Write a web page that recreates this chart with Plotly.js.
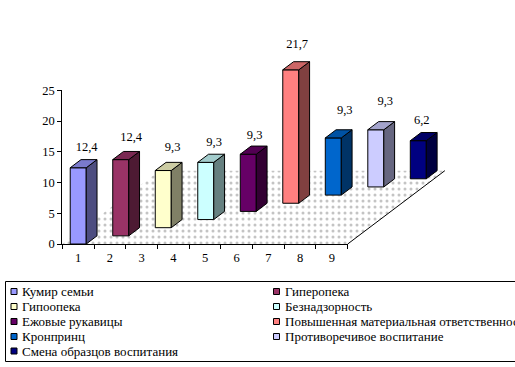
<!DOCTYPE html>
<html><head><meta charset="utf-8">
<script src="https://cdn.plot.ly/plotly-3.0.1.min.js"></script>
<style>html,body{margin:0;padding:0;background:#fff}#c{width:515px;height:367px}</style></head>
<body><div id="c"></div>
<script>
const categories = ["1","2","3","4","5","6","7","8","9"];
const seriesNames = ["Кумир семьи","Гиперопека","Гипоопека","Безнадзорность","Ежовые рукавицы","Повышенная материальная ответственность","Кронпринц","Противоречивое воспитание","Смена образцов воспитания"];
const values = [12.4,12.4,9.3,9.3,9.3,21.7,9.3,9.3,6.2];
const valueLabels = ["12,4","12,4","9,3","9,3","9,3","21,7","9,3","9,3","6,2"];
const frontColors = ["#9999FF","#993366","#FFFFCC","#CCFFFF","#660066","#FF8080","#0066CC","#CCCCFF","#000080"];
const sideColors = ["#4D4D80","#4D1A33","#808066","#668080","#330033","#804040","#003366","#666680","#000040"];
const topColors = ["#7A7ACC","#7A2952","#CCCCA3","#A3CCCC","#520052","#CC6666","#0052A3","#A3A3CC","#000066"];
const labelNudgeX = [3,5,4,3,1,1,6,4,-2];
const labelNudgeY = [20,22,23,19,18.6,25,27,28,19.6];

const W=515,H=367;
const X0=62.3,Y0=244,PXU=31.71,PYU=6.148;
const DX=10.8/PXU, DY=8.15/PYU, BW=16/PXU, GAP=0.25;
const rx=[-X0/PXU,(W-X0)/PXU], ry=[(Y0-H)/PYU,Y0/PYU];
const left=i=>i+GAP+i*DX, base=i=>i*DY;

const traces=[];
const n=categories.length;
traces.push({type:'scatter',mode:'lines',xaxis:'x',yaxis:'y',hoverinfo:'skip',showlegend:false,
  x:[0,n,n+n*DX,n*DX,0],y:[0,0,n*DY,n*DY,0],fill:'toself',fillcolor:'#ffffff',
  fillpattern:{shape:'.',fgcolor:'#c4c4c4',bgcolor:'#ffffff',size:6,solidity:0.2},line:{width:0}});
traces.push({type:'scatter',mode:'lines',xaxis:'x',yaxis:'y',hoverinfo:'skip',showlegend:false,
  x:[n,n+n*DX],y:[0,n*DY],line:{color:'#000',width:1}});
traces.push({type:'bar',xaxis:'x2',yaxis:'y2',name:'',hoverinfo:'skip',showlegend:false,
  x:categories.map((c,i)=>left(i)+BW/2),y:values,base:values.map((v,i)=>base(i)),width:BW,
  marker:{color:frontColors,line:{color:'#000',width:1}}});
values.forEach((v,i)=>{
  const l=left(i),b=base(i);
  traces.push({type:'scatter',mode:'lines',xaxis:'x2',yaxis:'y2',hoverinfo:'skip',showlegend:false,name:seriesNames[i],
    x:[l+BW,l+BW+DX,l+BW+DX,l+BW,l+BW],y:[b,b+DY,b+DY+v,b+v,b],fill:'toself',fillcolor:sideColors[i],line:{color:'#000',width:1}});
  traces.push({type:'scatter',mode:'lines',xaxis:'x2',yaxis:'y2',hoverinfo:'skip',showlegend:false,name:seriesNames[i],
    x:[l,l+DX,l+BW+DX,l+BW,l],y:[b+v,b+v+DY,b+v+DY,b+v,b+v],fill:'toself',fillcolor:topColors[i],line:{color:'#000',width:1}});
});
traces.push({type:'scatter',mode:'text',xaxis:'x2',yaxis:'y2',hoverinfo:'skip',showlegend:false,
  x:values.map((v,i)=>left(i)+(BW+DX)/2+labelNudgeX[i]/PXU),
  y:values.map((v,i)=>base(i)+v+labelNudgeY[i]/PYU),
  text:valueLabels,textposition:'middle center',cliponaxis:false,textfont:{family:'Liberation Serif',size:12.5,color:'#000'}});
// axes carrier
traces.push({type:'scatter',mode:'none',xaxis:'x3',yaxis:'y3',x:[0,n],y:[0,25],hoverinfo:'skip',showlegend:false});

const hidden=r=>({range:r,domain:[0,1],visible:false,fixedrange:true});
const shapes=[{type:'rect',xref:'paper',yref:'paper',x0:5.5/W,x1:(W+5)/W,y0:1-281.5/H,y1:1-361.5/H,line:{color:'#000',width:1},fillcolor:'rgba(0,0,0,0)'}];
const annotations=[];
const colX=[[14,20.5],[276.5,283.5]], rowY=[291.5,306.5,321.5,336.5,351];
seriesNames.forEach((s,i)=>{
  const c=colX[i%2], y=rowY[Math.floor(i/2)];
  shapes.push({type:'rect',xref:'paper',yref:'paper',x0:(c[0]-3)/W,x1:(c[0]+3)/W,y0:1-(y-3)/H,y1:1-(y+3)/H,fillcolor:frontColors[i],line:{color:'#000',width:1}});
  annotations.push({xref:'paper',yref:'paper',x:c[1]/W,y:1-y/H,xanchor:'left',yanchor:'middle',showarrow:false,text:s,borderpad:0,
    font:{family:'Liberation Serif',size:13,color:'#000'}});
});
const tickFont={family:'Liberation Serif',size:12.5,color:'#000'};
const layout={width:W,height:H,margin:{l:0,r:0,t:0,b:0},paper_bgcolor:'#fff',plot_bgcolor:'rgba(0,0,0,0)',showlegend:false,
  bargap:0,shapes,annotations,
  xaxis:hidden(rx),yaxis:hidden(ry),
  xaxis2:Object.assign(hidden(rx),{overlaying:'x',anchor:'y2'}),
  yaxis2:Object.assign(hidden(ry),{overlaying:'y',anchor:'x2'}),
  xaxis3:{domain:[X0/W,(X0+n*PXU)/W],range:[0,n],anchor:'y3',showgrid:false,zeroline:false,showline:true,linecolor:'#000',linewidth:1,
    tickmode:'array',tickvals:categories.map((c,i)=>i+0.5),ticktext:categories,ticks:'',ticklen:0,ticklabelstandoff:2,tickfont:tickFont,fixedrange:true,
    minor:{tickmode:'array',tickvals:[0,1,2,3,4,5,6,7,8,9],ticks:'outside',ticklen:4,tickcolor:'#000',tickwidth:1,showgrid:false}},
  yaxis3:{domain:[1-Y0/H,1-(Y0-25*PYU)/H],range:[0,25],anchor:'x3',showgrid:false,zeroline:false,showline:true,linecolor:'#000',linewidth:1,
    tickmode:'array',tickvals:[0,5,10,15,20,25],ticks:'outside',ticklen:4,tickcolor:'#000',tickfont:tickFont,fixedrange:true}
};
Plotly.newPlot('c',traces,layout,{displayModeBar:false,staticPlot:true});
</script></body></html>
